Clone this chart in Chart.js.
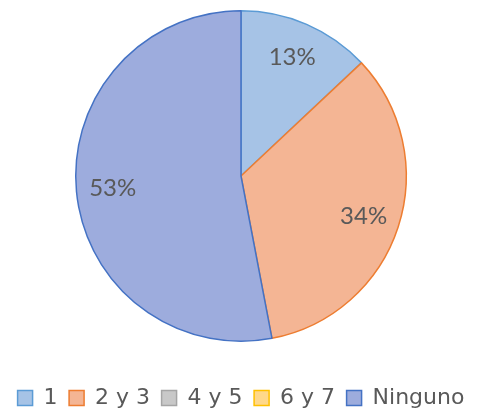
<!DOCTYPE html>
<html>
<head>
<meta charset="utf-8">
<script src="https://cdn.jsdelivr.net/npm/chart.js@4/dist/chart.umd.min.js"></script>
<style>
    html, body { margin: 0; padding: 0; background: #ffffff; }
    #chart { display: block; }
</style>
</head>
<body>
<canvas id="chart" width="478" height="414"></canvas>
<script>
// Chart data (percentages)
const categories = ['1', '2 y 3', '4 y 5', '6 y 7', 'Ninguno'];
const percentages = [13, 34, 0, 0, 53];

// Excel-like palette: soft fill, stronger outline
const fillColors = ['#a6c3e6', '#f4b594', '#c8c8c8', '#ffd88a', '#9dacdd'];
const lineColors = ['#5b9bd5', '#ed7d31', '#a5a5a5', '#ffc000', '#4472c4'];

// Draw the "13%" style labels inside each slice
const sliceLabels = {
    id: 'sliceLabels',
    afterDatasetsDraw(chart) {
        const ctx = chart.ctx;
        const meta = chart.getDatasetMeta(0);
        ctx.save();
        ctx.font = '24px Lato, sans-serif';
        ctx.fillStyle = '#595959';
        ctx.textAlign = 'center';
        ctx.textBaseline = 'middle';
        meta.data.forEach((arc, i) => {
            const value = percentages[i];
            if (!value) return;
            const { x, y, startAngle, endAngle, outerRadius } =
                arc.getProps(['x', 'y', 'startAngle', 'endAngle', 'outerRadius'], true);
            const mid = (startAngle + endAngle) / 2;
            const r = outerRadius * 0.78;
            ctx.fillText(value + '%', x + Math.cos(mid) * r, y + Math.sin(mid) * r);
        });
        ctx.restore();
    }
};

new Chart(document.getElementById('chart'), {
    type: 'pie',
    data: {
        labels: categories,
        datasets: [{
            data: percentages,
            backgroundColor: fillColors,
            borderColor: lineColors,
            borderWidth: 1.5
        }]
    },
    options: {
        responsive: false,
        animation: false,
        layout: {
            padding: { top: 10, left: 4, right: 0, bottom: 0 }
        },
        plugins: {
            tooltip: { enabled: false },
            legend: {
                position: 'bottom',
                maxHeight: 72,
                // empty title only pushes the legend row down
                title: {
                    display: true,
                    text: ' ',
                    padding: 0,
                    font: { size: 28, lineHeight: 1.2 }
                },
                labels: {
                    boxWidth: 15,
                    boxHeight: 15,
                    padding: 11.5,
                    color: '#595959',
                    font: { family: "'DejaVu Sans', sans-serif", size: 22 }
                }
            }
        }
    },
    plugins: [sliceLabels]
});
</script>
</body>
</html>
